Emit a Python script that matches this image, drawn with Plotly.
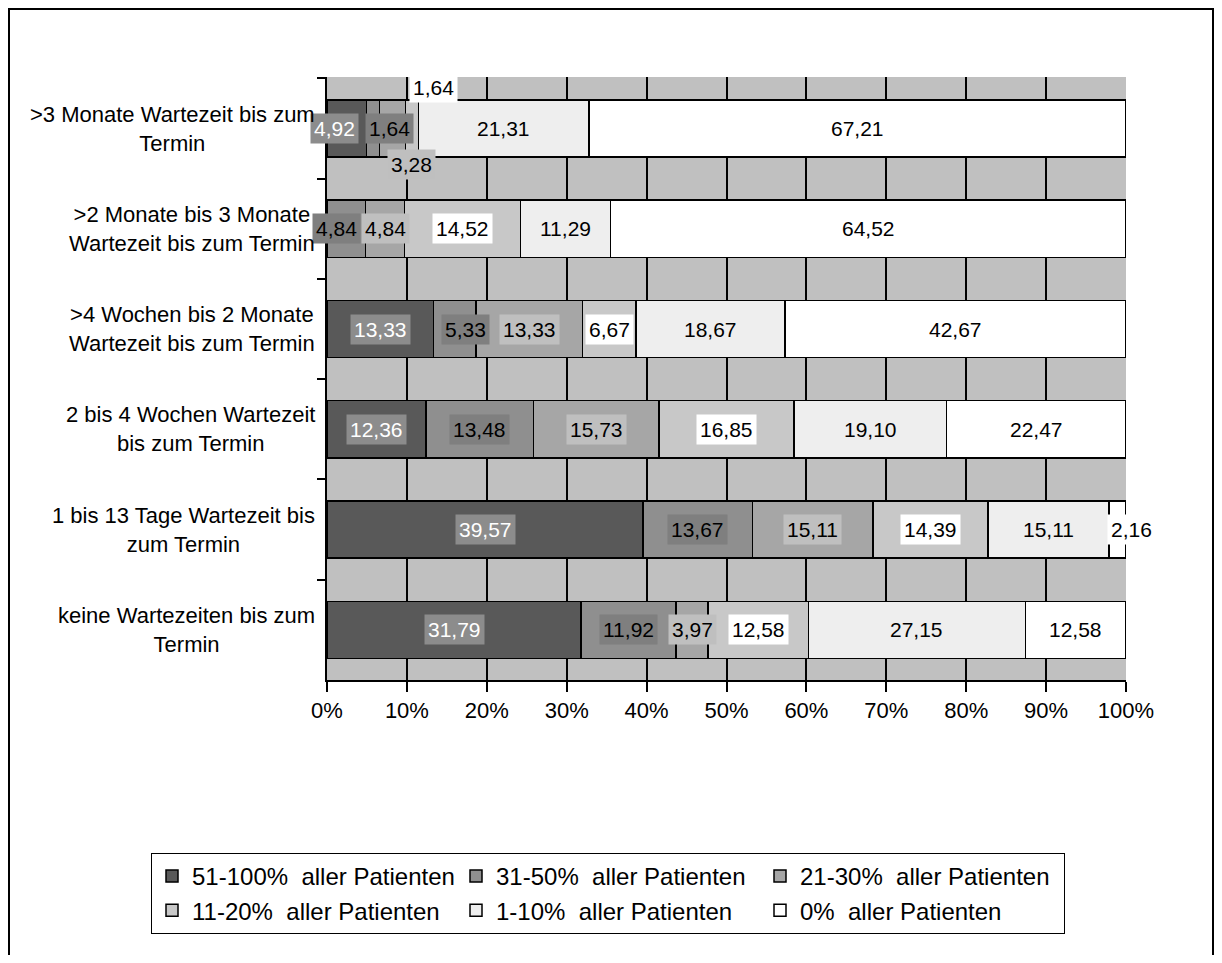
import plotly.graph_objects as go

# Kategorien (von oben nach unten)
categories = [
    ">3 Monate Wartezeit bis zum<br>Termin",
    ">2 Monate bis 3 Monate<br>Wartezeit bis zum Termin",
    ">4 Wochen bis 2 Monate<br>Wartezeit bis zum Termin",
    "2 bis 4 Wochen Wartezeit<br>bis zum Termin",
    "1 bis 13 Tage Wartezeit bis<br>zum Termin",
    "keine Wartezeiten bis zum<br>Termin",
]

series_names = [
    "51-100%  aller Patienten",
    "31-50%  aller Patienten",
    "21-30%  aller Patienten",
    "11-20%  aller Patienten",
    "1-10%  aller Patienten",
    "0%  aller Patienten",
]

s_51_100 = [4.92, 0.0, 13.33, 12.36, 39.57, 31.79]
s_31_50 = [1.64, 4.84, 5.33, 13.48, 13.67, 11.92]
s_21_30 = [3.28, 4.84, 13.33, 15.73, 15.11, 3.97]
s_11_20 = [1.64, 14.52, 6.67, 16.85, 14.39, 12.58]
s_1_10 = [21.31, 11.29, 18.67, 19.10, 15.11, 27.15]
s_0 = [67.21, 64.52, 42.67, 22.47, 2.16, 12.58]

x_ticks = [0, 10, 20, 30, 40, 50, 60, 70, 80, 90, 100]
x_ticktext = ["0%", "10%", "20%", "30%", "40%", "50%", "60%", "70%", "80%", "90%", "100%"]

all_series = [s_51_100, s_31_50, s_21_30, s_11_20, s_1_10, s_0]

# Stile
bar_colors = ["#595959", "#8f8f8f", "#a6a6a6", "#c8c8c8", "#eeeeee", "#ffffff"]
label_bg = ["#8c8c8c", "#7f7f7f", "#bfbfbf", "#ffffff", "rgba(0,0,0,0)", "#ffffff"]
label_fg = ["white", "black", "black", "black", "black", "black"]

# manuelle Verschiebung einzelner Beschriftungen (zeile, serie) -> (dx, dy) in px
label_shift = {
    (0, 0): (-12, 0),
    (0, 1): (17, 0),
    (0, 2): (19, -36),
    (0, 3): (21, 41),
    (1, 1): (-10, 0),
    (2, 1): (11, 0),
    (4, 5): (14, 0),
}

FONT = "Liberation Sans, Arial, sans-serif"
OFF = 8  # Seitenrand des Browsers
W, H = 1206, 947
ML, MT = 327 - OFF, 77 - OFF
MR, MB = W - (1126 - OFF), H - (680 - OFF)
PW, PH = W - ML - MR, H - MT - MB


def px2paper_x(px):
    return (px - OFF - ML) / PW


def px2paper_y(py):
    return (H - MB - (py - OFF)) / PH


def fmt(v):
    return f"{v:.2f}".replace(".", ",")


fig = go.Figure()

for name, vals, col in zip(series_names, all_series, bar_colors):
    fig.add_trace(
        go.Bar(
            y=categories,
            x=vals,
            name=name,
            orientation="h",
            marker=dict(color=col, line=dict(color="black", width=1.5)),
            hoverinfo="x+name",
        )
    )

# Datenbeschriftungen
annots = []
for i, cat in enumerate(categories):
    start = 0.0
    for j, vals in enumerate(all_series):
        v = vals[i]
        if v > 0:
            dx, dy = label_shift.get((i, j), (0, 0))
            annots.append(dict(
                x=start + v / 2, y=cat, xref="x", yref="y",
                text=fmt(v), showarrow=False,
                font=dict(family=FONT, size=21, color=label_fg[j]),
                bgcolor=label_bg[j], borderpad=3,
                xshift=dx, yshift=dy,
            ))
        start += v

# Kategorienbeschriftungen (zentriert, zweizeilig)
for cat in categories:
    annots.append(dict(
        x=0, y=cat, xref="paper", yref="y",
        text=cat, showarrow=False, xanchor="right", align="center",
        xshift=-10,
        font=dict(family=FONT, size=22, color="black"),
    ))

fig.update_layout(
    width=W, height=H,
    margin=dict(l=ML, r=MR, t=MT, b=MB),
    barmode="stack",
    bargap=0.43,
    plot_bgcolor="#c0c0c0",
    paper_bgcolor="white",
    font=dict(family=FONT, size=21, color="black"),
    annotations=annots,
    legend=dict(
        orientation="h",
        x=px2paper_x(151), y=px2paper_y(853),
        xanchor="left", yanchor="top",
        entrywidth=259, entrywidthmode="pixels",
        bordercolor="black", borderwidth=1, bgcolor="white",
        font=dict(family=FONT, size=24),
        traceorder="normal",
    ),
    shapes=[dict(
        type="rect", xref="paper", yref="paper",
        x0=px2paper_x(9), x1=px2paper_x(1213),
        y0=px2paper_y(1040), y1=px2paper_y(9),
        line=dict(color="black", width=2), fillcolor="rgba(0,0,0,0)",
        layer="below",
    )],
)

fig.update_xaxes(
    range=[0, 100],
    tickvals=x_ticks,
    ticktext=x_ticktext,
    showgrid=True, gridcolor="black", gridwidth=1.5,
    zeroline=False,
    showline=True, linecolor="black", linewidth=1.5,
    ticks="outside", ticklen=10, tickwidth=1.5, tickcolor="black",
    tickfont=dict(family=FONT, size=22),
)
fig.update_yaxes(
    autorange="reversed",
    showticklabels=False,
    showgrid=False,
    showline=True, linecolor="black", linewidth=1.5,
    ticks="outside", ticklen=8, tickwidth=1.5, tickcolor="black",
    tickson="boundaries",
)

fig.write_html("out.html")
